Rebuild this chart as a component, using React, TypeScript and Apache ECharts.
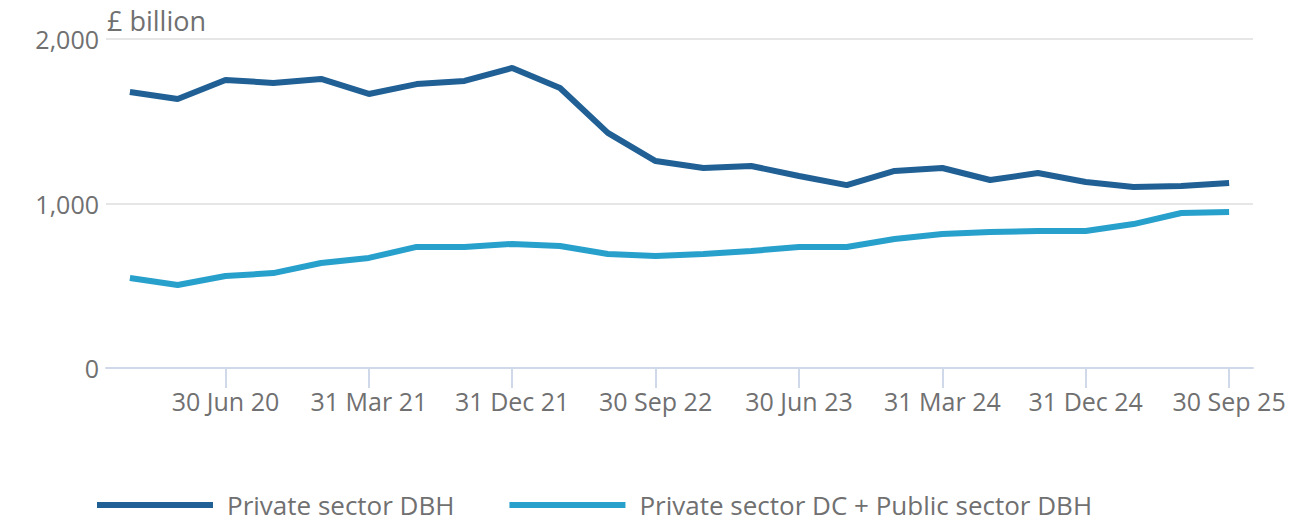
import React, { useEffect, useRef } from "react";
import * as echarts from "echarts";

const categories = [
  "31 Dec 19", "31 Mar 20", "30 Jun 20", "30 Sep 20",
  "31 Dec 20", "31 Mar 21", "30 Jun 21", "30 Sep 21",
  "31 Dec 21", "31 Mar 22", "30 Jun 22", "30 Sep 22",
  "31 Dec 22", "31 Mar 23", "30 Jun 23", "30 Sep 23",
  "31 Dec 23", "31 Mar 24", "30 Jun 24", "30 Sep 24",
  "31 Dec 24", "31 Mar 25", "30 Jun 25", "30 Sep 25",
];

const privateDBH = [
  1678, 1635, 1751, 1733, 1757, 1666, 1726, 1745,
  1824, 1702, 1429, 1258, 1216, 1228, 1167, 1112,
  1198, 1216, 1143, 1185, 1131, 1100, 1106, 1125,
];

const dcPublicDBH = [
  547, 505, 559, 577, 638, 669, 736, 736,
  754, 742, 693, 681, 693, 711, 736, 736,
  784, 815, 827, 833, 833, 875, 942, 948,
];

const seriesNames = ["Private sector DBH", "Private sector DC + Public sector DBH"];
const yTicks = [0, 1000, 2000];

const FONT = "'Open Sans', 'Noto Sans', sans-serif";
const TEXT = "#707071";

export default function App() {
  const ref = useRef<HTMLDivElement>(null);
  useEffect(() => {
    document.body.style.margin = "0";
    const chart = echarts.init(ref.current!, null, { renderer: "svg" });
    chart.setOption({
      animation: false,
      textStyle: { fontFamily: FONT },
      title: {
        text: "£ billion",
        left: 102,
        top: 2,
        textStyle: { fontFamily: FONT, fontSize: 27, fontWeight: "normal", color: TEXT },
      },
      grid: { left: 106, right: 45, top: 39, bottom: 156, containLabel: false },
      legend: {
        left: 97,
        top: 491,
        padding: 0,
        icon: "rect",
        itemWidth: 116,
        itemHeight: 6,
        itemGap: 55,
        textStyle: { fontFamily: FONT, fontSize: 26, lineHeight: 28, color: TEXT, padding: [0, 0, 0, 9] },
        data: seriesNames,
      },
      xAxis: {
        type: "category",
        data: categories,
        boundaryGap: true,
        axisLine: { lineStyle: { color: "#d0d9ea", width: 2 } },
        axisTick: {
          show: true,
          alignWithLabel: true,
          length: 20,
          interval: (i: number) => i % 3 === 2,
          lineStyle: { color: "#d0d9ea", width: 2 },
        },
        axisLabel: {
          interval: (i: number) => i % 3 === 2,
          margin: 20,
          fontFamily: FONT,
          fontSize: 25,
          color: TEXT,
        },
      },
      yAxis: {
        type: "value",
        min: yTicks[0],
        max: yTicks[yTicks.length - 1],
        interval: 1000,
        axisLine: { show: false },
        axisTick: { show: false },
        splitLine: { lineStyle: { color: "#e6e6e6", width: 2 } },
        axisLabel: {
          margin: 7,
          fontFamily: FONT,
          fontSize: 25,
          color: TEXT,
          formatter: (v: number) => v.toLocaleString("en-GB"),
        },
      },
      series: [
        {
          name: seriesNames[0],
          type: "line",
          data: privateDBH,
          symbol: "none",
          color: "#206095",
          lineStyle: { width: 6, color: "#206095" },
        },
        {
          name: seriesNames[1],
          type: "line",
          data: dcPublicDBH,
          symbol: "none",
          color: "#27a0cc",
          lineStyle: { width: 6, color: "#27a0cc" },
        },
      ],
    });
    return () => chart.dispose();
  }, []);
  return <div ref={ref} style={{ width: 1298, height: 524 }} />;
}
